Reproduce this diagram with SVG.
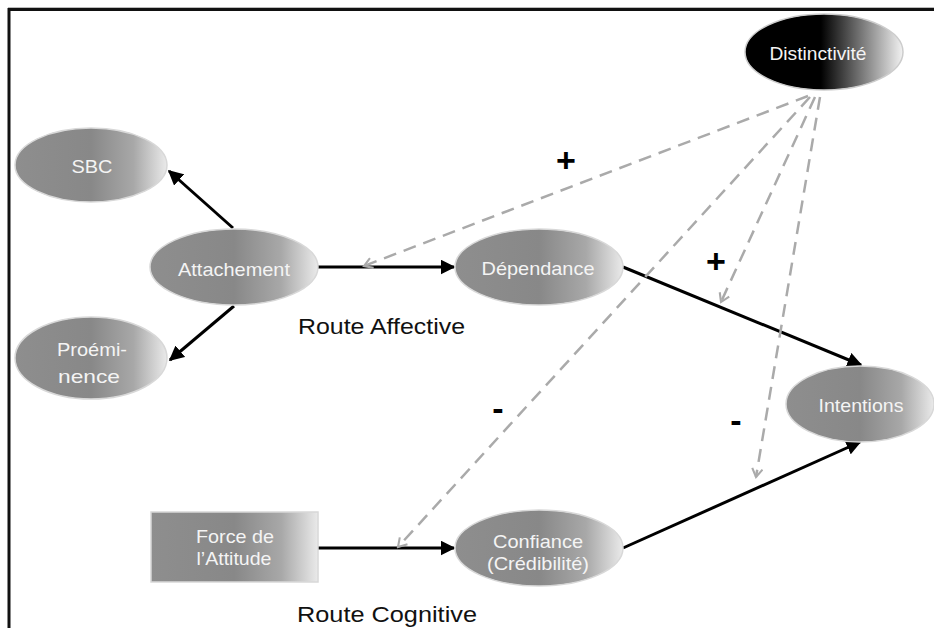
<svg xmlns="http://www.w3.org/2000/svg" width="934" height="628" viewBox="0 0 934 628">
<defs>
  <linearGradient id="gGrey" x1="0" y1="0" x2="1" y2="0">
    <stop offset="0" stop-color="#8e8e8e"/>
    <stop offset="0.5" stop-color="#888"/>
    <stop offset="0.78" stop-color="#a8a8a8"/>
    <stop offset="1" stop-color="#eaeaea"/>
  </linearGradient>
  <linearGradient id="gDark" x1="0" y1="0" x2="1" y2="0">
    <stop offset="0" stop-color="#000"/>
    <stop offset="0.48" stop-color="#000"/>
    <stop offset="1" stop-color="#f2f2f2"/>
  </linearGradient>
  <marker id="arrSolid" viewBox="0 0 10 10" refX="9" refY="5" markerWidth="5" markerHeight="5" orient="auto" markerUnits="strokeWidth">
    <path d="M0,0 L10,5 L0,10 z" fill="#000"/>
  </marker>
  <marker id="arrDash" viewBox="0 0 12 12" refX="10" refY="6" markerWidth="5" markerHeight="5" orient="auto" markerUnits="strokeWidth">
    <path d="M2,1 L10,6 L2,11" fill="none" stroke="#aaa" stroke-width="2"/>
  </marker>
</defs>
<style>
  .node { fill: url(#gGrey); stroke: #d8d8d8; stroke-width: 1.5; }
  .lbl { font-family: "Liberation Sans", Arial, sans-serif; font-size: 19px; fill: #f4f4f4; text-anchor: middle; }
  .route { font-family: "Liberation Sans", Arial, sans-serif; font-size: 22px; fill: #111; }
  .sign { font-family: "Liberation Sans", Arial, sans-serif; font-size: 34px; font-weight: bold; fill: #000; text-anchor: middle; }
  .solid { stroke: #000; stroke-width: 3; fill: none; marker-end: url(#arrSolid); }
  .dash { stroke: #aaa; stroke-width: 2.5; fill: none; stroke-dasharray: 13 8; marker-end: url(#arrDash); }
</style>
<rect width="934" height="628" fill="#fff"/>
<!-- frame -->
<line x1="8" y1="7.5" x2="934" y2="7.5" stroke="#bbb" stroke-width="1"/>
<path d="M9,628 V9.5 H934" fill="none" stroke="#111" stroke-width="3"/>

<g id="connectors">
  <line class="solid" x1="233" y1="228" x2="169" y2="171"/>
  <line class="solid" x1="234" y1="306" x2="170" y2="360"/>
  <line class="solid" x1="318" y1="267" x2="454" y2="267"/>
  <line class="solid" x1="318" y1="548" x2="454" y2="548"/>
  <line class="solid" x1="623" y1="267" x2="861" y2="365"/>
  <line class="solid" x1="623" y1="548" x2="860" y2="442"/>
  <line class="dash" x1="808" y1="96" x2="364" y2="266"/>
  <line class="dash" x1="810" y1="97" x2="398" y2="547"/>
  <line class="dash" x1="815" y1="97" x2="721" y2="302"/>
  <line class="dash" x1="820" y1="97" x2="756" y2="477"/>
</g>

<g id="distinctivite">
  <ellipse cx="824" cy="52" rx="79" ry="38" fill="url(#gDark)" stroke="#ccc" stroke-width="1.5"/>
  <text class="lbl" x="818" y="60" textLength="97" lengthAdjust="spacingAndGlyphs">Distinctivité</text>
</g>
<g id="sbc">
  <ellipse class="node" cx="91" cy="165" rx="76" ry="37"/>
  <text class="lbl" x="92" y="173" textLength="41" lengthAdjust="spacingAndGlyphs">SBC</text>
</g>
<g id="attachement">
  <ellipse class="node" cx="234" cy="267" rx="84" ry="38"/>
  <text class="lbl" x="234" y="276" textLength="112" lengthAdjust="spacingAndGlyphs">Attachement</text>
</g>
<g id="proeminence">
  <ellipse class="node" cx="91" cy="358" rx="76" ry="41"/>
  <text class="lbl" x="92" y="356" textLength="70" lengthAdjust="spacingAndGlyphs">Proémi-</text>
  <text class="lbl" x="89" y="383" textLength="62" lengthAdjust="spacingAndGlyphs">nence</text>
</g>
<g id="dependance">
  <ellipse class="node" cx="539" cy="267" rx="84" ry="38"/>
  <text class="lbl" x="538" y="275" textLength="113" lengthAdjust="spacingAndGlyphs">Dépendance</text>
</g>
<g id="intentions">
  <ellipse class="node" cx="860" cy="404" rx="74" ry="38"/>
  <text class="lbl" x="861" y="412" textLength="85" lengthAdjust="spacingAndGlyphs">Intentions</text>
</g>
<g id="force">
  <rect class="node" x="151" y="512" width="167" height="70"/>
  <text class="lbl" x="235" y="543" textLength="78" lengthAdjust="spacingAndGlyphs">Force de</text>
  <text class="lbl" x="234" y="565" textLength="75" lengthAdjust="spacingAndGlyphs">l’Attitude</text>
</g>
<g id="confiance">
  <ellipse class="node" cx="539" cy="548" rx="84" ry="38"/>
  <text class="lbl" x="538" y="548" textLength="90" lengthAdjust="spacingAndGlyphs">Confiance</text>
  <text class="lbl" x="538" y="570" textLength="102" lengthAdjust="spacingAndGlyphs">(Crédibilité)</text>
</g>

<text class="route" x="298" y="334" textLength="167" lengthAdjust="spacingAndGlyphs">Route Affective</text>
<text class="route" x="297" y="622" textLength="180" lengthAdjust="spacingAndGlyphs">Route Cognitive</text>

<text class="sign" x="566" y="172">+</text>
<text class="sign" x="716" y="273">+</text>
<text class="sign" x="498" y="420">-</text>
<text class="sign" x="736" y="432">-</text>
</svg>
